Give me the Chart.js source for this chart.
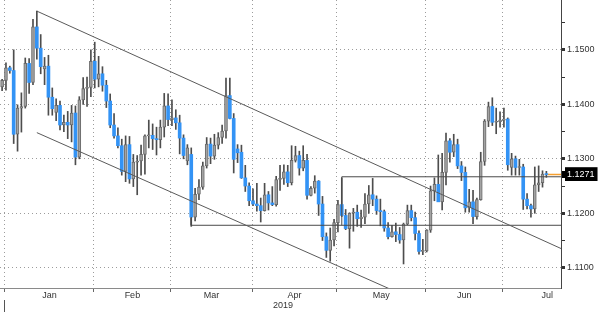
<!DOCTYPE html>
<html><head><meta charset="utf-8">
<script src="https://cdn.jsdelivr.net/npm/chart.js@4.4.1/dist/chart.umd.min.js"></script>
<style>html,body{margin:0;padding:0;background:#fff;}#wrap{width:600px;height:314px;}</style>
</head><body><div id="wrap"><canvas id="c" width="600" height="314"></canvas></div>
<script>
const dates = [
 '2018-12-28','2018-12-31','2019-01-01','2019-01-02','2019-01-03','2019-01-04',
 '2019-01-07','2019-01-08','2019-01-09','2019-01-10','2019-01-11',
 '2019-01-14','2019-01-15','2019-01-16','2019-01-17','2019-01-18',
 '2019-01-21','2019-01-22','2019-01-23','2019-01-24','2019-01-25',
 '2019-01-28','2019-01-29','2019-01-30','2019-01-31','2019-02-01',
 '2019-02-04','2019-02-05','2019-02-06','2019-02-07','2019-02-08',
 '2019-02-11','2019-02-12','2019-02-13','2019-02-14','2019-02-15',
 '2019-02-18','2019-02-19','2019-02-20','2019-02-21','2019-02-22',
 '2019-02-25','2019-02-26','2019-02-27','2019-02-28','2019-03-01',
 '2019-03-04','2019-03-05','2019-03-06','2019-03-07','2019-03-08',
 '2019-03-11','2019-03-12','2019-03-13','2019-03-14','2019-03-15',
 '2019-03-18','2019-03-19','2019-03-20','2019-03-21','2019-03-22',
 '2019-03-25','2019-03-26','2019-03-27','2019-03-28','2019-03-29',
 '2019-04-01','2019-04-02','2019-04-03','2019-04-04','2019-04-05',
 '2019-04-08','2019-04-09','2019-04-10','2019-04-11','2019-04-12',
 '2019-04-15','2019-04-16','2019-04-17','2019-04-18','2019-04-19',
 '2019-04-22','2019-04-23','2019-04-24','2019-04-25','2019-04-26',
 '2019-04-29','2019-04-30','2019-05-01','2019-05-02','2019-05-03',
 '2019-05-06','2019-05-07','2019-05-08','2019-05-09','2019-05-10',
 '2019-05-13','2019-05-14','2019-05-15','2019-05-16','2019-05-17',
 '2019-05-20','2019-05-21','2019-05-22','2019-05-23','2019-05-24',
 '2019-05-27','2019-05-28','2019-05-29','2019-05-30','2019-05-31',
 '2019-06-03','2019-06-04','2019-06-05','2019-06-06','2019-06-07',
 '2019-06-10','2019-06-11','2019-06-12','2019-06-13','2019-06-14',
 '2019-06-17','2019-06-18','2019-06-19','2019-06-20','2019-06-21',
 '2019-06-24','2019-06-25','2019-06-26','2019-06-27','2019-06-28',
 '2019-07-01','2019-07-02','2019-07-03','2019-07-04','2019-07-05',
 '2019-07-08','2019-07-09','2019-07-10','2019-07-11','2019-07-12',
 '2019-07-15'
];
const opens = [
 1.1432,1.1444,1.1467,1.1462,1.1345,1.1393,
 1.1396,1.1475,1.1440,1.1542,1.1503,
 1.1465,1.1470,1.1413,1.1385,1.1398,
 1.1362,1.1367,1.1362,1.1384,1.1303,
 1.1408,1.1429,1.1431,1.1479,1.1446,
 1.1456,1.1435,1.1406,1.1362,1.1342,
 1.1324,1.1277,1.1326,1.1263,1.1294,
 1.1296,1.1308,1.1342,1.1343,1.1337,
 1.1335,1.1358,1.1397,1.1372,1.1375,
 1.1366,1.1338,1.1296,1.1308,1.1193,
 1.1235,1.1248,1.1287,1.1327,1.1305,
 1.1325,1.1339,1.1351,1.1416,1.1374,
 1.1318,1.1312,1.1265,1.1250,1.1223,
 1.1217,1.1214,1.1205,1.1234,1.1219,
 1.1216,1.1262,1.1264,1.1276,1.1256,
 1.1297,1.1306,1.1283,1.1297,1.1233,
 1.1246,1.1259,1.1217,1.1157,1.1132,
 1.1151,1.1183,1.1216,1.1196,1.1172,
 1.1200,1.1202,1.1190,1.1193,1.1217,
 1.1234,1.1226,1.1205,1.1203,1.1173,
 1.1157,1.1166,1.1161,1.1151,1.1180,
 1.1205,1.1192,1.1163,1.1130,1.1131,
 1.1169,1.1241,1.1253,1.1221,1.1275,
 1.1333,1.1312,1.1326,1.1287,1.1275,
 1.1210,1.1221,1.1194,1.1225,1.1295,
 1.1369,1.1396,1.1367,1.1368,1.1371,
 1.1373,1.1284,1.1300,1.1284,1.1285,
 1.1226,1.1214,1.1208,1.1252,1.1256,
 1.1272
];
const highs = [
 1.1446,1.1476,1.1470,1.1500,1.1399,1.1421,
 1.1485,1.1484,1.1556,1.1571,1.1528,
 1.1486,1.1490,1.1430,1.1410,1.1406,
 1.1380,1.1387,1.1398,1.1397,1.1414,
 1.1449,1.1450,1.1500,1.1514,1.1488,
 1.1469,1.1444,1.1419,1.1383,1.1357,
 1.1336,1.1342,1.1341,1.1308,1.1306,
 1.1325,1.1344,1.1371,1.1364,1.1358,
 1.1371,1.1420,1.1419,1.1408,1.1390,
 1.1380,1.1344,1.1326,1.1320,1.1246,
 1.1262,1.1294,1.1339,1.1338,1.1345,
 1.1348,1.1362,1.1448,1.1448,1.1383,
 1.1326,1.1325,1.1288,1.1256,1.1245,
 1.1255,1.1228,1.1255,1.1240,1.1249,
 1.1268,1.1288,1.1289,1.1288,1.1324,
 1.1323,1.1314,1.1324,1.1308,1.1249,
 1.1269,1.1260,1.1231,1.1164,1.1173,
 1.1189,1.1224,1.1265,1.1207,1.1201,
 1.1209,1.1215,1.1206,1.1236,1.1251,
 1.1264,1.1232,1.1226,1.1206,1.1183,
 1.1178,1.1182,1.1174,1.1182,1.1215,
 1.1215,1.1202,1.1168,1.1152,1.1170,
 1.1250,1.1265,1.1307,1.1310,1.1347,
 1.1337,1.1345,1.1336,1.1295,1.1285,
 1.1244,1.1242,1.1228,1.1312,1.1372,
 1.1404,1.1412,1.1393,1.1386,1.1393,
 1.1375,1.1310,1.1305,1.1299,1.1290,
 1.1236,1.1217,1.1285,1.1287,1.1278,
 1.1277
];
const lows = [
 1.1425,1.1426,1.1457,1.1328,1.1314,1.1349,
 1.1393,1.1420,1.1436,1.1483,1.1456,
 1.1436,1.1380,1.1380,1.1370,1.1353,
 1.1350,1.1337,1.1331,1.1289,1.1300,
 1.1400,1.1396,1.1414,1.1430,1.1432,
 1.1424,1.1394,1.1357,1.1338,1.1320,
 1.1270,1.1258,1.1255,1.1249,1.1234,
 1.1270,1.1272,1.1320,1.1317,1.1307,
 1.1320,1.1340,1.1361,1.1361,1.1354,
 1.1309,1.1300,1.1289,1.1176,1.1186,
 1.1225,1.1244,1.1283,1.1291,1.1299,
 1.1318,1.1328,1.1338,1.1373,1.1274,
 1.1293,1.1264,1.1240,1.1214,1.1214,
 1.1204,1.1184,1.1204,1.1206,1.1214,
 1.1213,1.1242,1.1253,1.1249,1.1252,
 1.1294,1.1270,1.1278,1.1226,1.1232,
 1.1237,1.1196,1.1150,1.1119,1.1112,
 1.1140,1.1166,1.1194,1.1170,1.1136,
 1.1167,1.1176,1.1174,1.1181,1.1200,
 1.1214,1.1198,1.1177,1.1167,1.1153,
 1.1156,1.1148,1.1145,1.1107,1.1179,
 1.1186,1.1151,1.1125,1.1124,1.1129,
 1.1165,1.1223,1.1229,1.1206,1.1252,
 1.1294,1.1304,1.1282,1.1260,1.1202,
 1.1202,1.1181,1.1189,1.1224,1.1288,
 1.1359,1.1361,1.1346,1.1358,1.1358,
 1.1279,1.1270,1.1270,1.1270,1.1207,
 1.1208,1.1193,1.1200,1.1240,1.1248,
 1.1266
];
const closes = [
 1.1444,1.1467,1.1462,1.1345,1.1393,1.1396,
 1.1475,1.1440,1.1542,1.1503,1.1469,
 1.1470,1.1413,1.1392,1.1398,1.1362,
 1.1367,1.1362,1.1384,1.1303,1.1408,
 1.1429,1.1431,1.1479,1.1446,1.1456,
 1.1435,1.1406,1.1362,1.1342,1.1324,
 1.1277,1.1326,1.1263,1.1294,1.1296,
 1.1308,1.1342,1.1343,1.1337,1.1335,
 1.1358,1.1397,1.1372,1.1375,1.1366,
 1.1338,1.1306,1.1320,1.1193,1.1235,
 1.1248,1.1287,1.1327,1.1305,1.1325,
 1.1339,1.1351,1.1416,1.1374,1.1299,
 1.1311,1.1265,1.1250,1.1223,1.1217,
 1.1214,1.1205,1.1234,1.1219,1.1216,
 1.1262,1.1264,1.1276,1.1256,1.1297,
 1.1306,1.1283,1.1297,1.1233,1.1246,
 1.1259,1.1217,1.1157,1.1132,1.1151,
 1.1183,1.1216,1.1196,1.1172,1.1200,
 1.1202,1.1190,1.1193,1.1217,1.1234,
 1.1226,1.1205,1.1203,1.1173,1.1157,
 1.1166,1.1161,1.1151,1.1180,1.1205,
 1.1192,1.1163,1.1130,1.1131,1.1169,
 1.1241,1.1253,1.1221,1.1275,1.1333,
 1.1312,1.1326,1.1287,1.1275,1.1210,
 1.1221,1.1194,1.1225,1.1295,1.1369,
 1.1396,1.1367,1.1368,1.1371,1.1373,
 1.1289,1.1300,1.1284,1.1285,1.1226,
 1.1214,1.1208,1.1252,1.1256,1.1272,
 1.1271
];

// month boundaries (first weekday of each month) and month labels
const monthStarts = ['2019-01-01','2019-02-01','2019-03-01','2019-04-01','2019-05-01','2019-06-03','2019-07-01','2019-08-01'];
const monthNames = ['Jan','Feb','Mar','Apr','May','Jun','Jul'];
const yearLabel = '2019';
const yMajor = [1.11, 1.12, 1.13, 1.14, 1.15];
const yMinor = [1.115, 1.125, 1.135, 1.145, 1.155];

// drawn trend lines: [date, price]
const channelTop = [['2019-01-10', 1.1571], ['2019-07-31', 1.1109]];
const channelBottom = [['2019-01-10', 1.1348], ['2019-05-23', 1.1050]];
const supportLine = [['2019-03-07', 1.1192], ['2019-03-07', 1.1178], ['2019-07-31', 1.1178]];
const resistanceLine = [['2019-05-01', 1.1178], ['2019-05-01', 1.1267], ['2019-07-31', 1.1267]];

// ---- helpers ----
function wd(iso){
  const t = Date.parse(iso + 'T00:00:00Z'), base = Date.UTC(2019,0,1);
  let n = 0;
  if (t >= base) { for (let d = base; d < t; d += 864e5){ const w = new Date(d).getUTCDay(); if (w !== 0 && w !== 6) n++; } }
  else { for (let d = t; d < base; d += 864e5){ const w = new Date(d).getUTCDay(); if (w !== 0 && w !== 6) n--; } }
  return n;
}
const GRID_SHIFT = -1.25;
const xMin = -2.545, xMax = 142.79;
const yMin = 1.10629, yMax = 1.15914;
const lastPrice = closes[closes.length - 1];
const lastX = wd(dates[dates.length - 1]);

const xs = dates.map(wd);
const wicks = xs.map((x, i) => ({x, y: [lows[i], highs[i]]}));
const upBodies = [], downBodies = [];
xs.forEach((x, i) => {
  const o = opens[i], c = closes[i];
  (c >= o ? upBodies : downBodies).push({x, y: [Math.min(o, c), Math.max(o, c)]});
});
const toPts = arr => arr.map(([d, p]) => ({x: wd(d), y: p}));

const bounds = monthStarts.map(d => wd(d) + GRID_SHIFT);
const xTickDefs = [];
bounds.forEach((b, i) => {
  if (b <= xMax) xTickDefs.push({value: b, lbl: '', kind: 'b'});
  if (i < monthNames.length) xTickDefs.push({value: (b + bounds[i + 1]) / 2, lbl: monthNames[i], kind: 'l'});
});
xTickDefs.sort((a, b) => a.value - b.value);
const yTickDefs = [
  ...yMajor.map(v => ({value: v, lbl: v.toFixed(4), kind: 'M'})),
  ...yMinor.map(v => ({value: v, lbl: '', kind: 'm'})),
  {value: lastPrice, lbl: lastPrice.toFixed(4), kind: 'p'}
].sort((a, b) => a.value - b.value);

const FONT = {family: "'Liberation Sans', Arial, sans-serif", size: 9};
const TR = 'rgba(0,0,0,0)';
const kindOf = c => (c && c.tick && c.tick.kind) || '';
const noPad = s => { s.paddingLeft = 0; s.paddingRight = 0; s.paddingTop = 0; s.paddingBottom = 0; };
const lineDs = (pts, color, width, order) => ({
  type: 'line', data: pts, borderColor: color, borderWidth: width, pointRadius: 0,
  fill: false, tension: 0, order, xAxisID: 'x', yAxisID: 'y'
});

new Chart(document.getElementById('c'), {
  type: 'bar',
  data: {
    datasets: [
      lineDs(toPts(channelTop), '#5a5a5a', 1, 0),
      lineDs(toPts(channelBottom), '#5a5a5a', 1, 0),
      lineDs(toPts(supportLine), '#4a4a4a', 1, 0),
      lineDs(toPts(resistanceLine), '#4a4a4a', 1, 0),
      lineDs([{x: lastX + 0.4, y: lastPrice}, {x: xMax + 5, y: lastPrice}], '#f5a030', 1.5, 0),
      {type: 'bar', data: upBodies, backgroundColor: '#a3a3a3', borderColor: '#6a6a6a', borderWidth: 1,
       borderSkipped: false, barThickness: 3, grouped: false, minBarLength: 1, order: 2},
      {type: 'bar', data: downBodies, backgroundColor: '#3393f5', borderWidth: 0,
       barThickness: 3, grouped: false, minBarLength: 1, order: 2},
      {type: 'bar', data: wicks, backgroundColor: '#4d4d4d', borderWidth: 0,
       barThickness: 1, grouped: false, order: 3}
    ]
  },
  options: {
    responsive: false, animation: false, devicePixelRatio: 1,
    layout: {padding: 0},
    plugins: {legend: {display: false}, tooltip: {enabled: false}, title: {display: false}},
    scales: {
      x: {
        type: 'linear', position: 'bottom', weight: 0, min: xMin, max: xMax, bounds: 'data', offset: false,
        afterBuildTicks: s => { s.ticks = xTickDefs.map(t => ({...t})); },
        afterFit: s => { s.height = 12; noPad(s); },
        ticks: {autoSkip: false, maxRotation: 0, minRotation: 0, padding: -2, color: '#333', font: FONT,
                callback: (v, i, ts) => ts[i].lbl},
        grid: {display: true, offset: false, drawOnChartArea: true, drawTicks: true, tickLength: 4, lineWidth: 1,
               color: c => kindOf(c) === 'b' ? '#9c9c9c' : TR,
               tickColor: c => kindOf(c) === 'b' ? '#666' : TR},
        border: {display: true, color: '#8a8a8a', width: 1, dash: [1, 3]}
      },
      xy: {
        type: 'linear', position: 'bottom', weight: 1, min: xMin, max: xMax, bounds: 'data', offset: false,
        afterBuildTicks: s => { s.ticks = [{value: bounds[0], lbl: '', kind: 'b'}, {value: (bounds[0] + xMax) / 2, lbl: yearLabel, kind: 'l'}]; },
        afterFit: s => { s.height = 14; noPad(s); },
        ticks: {autoSkip: false, maxRotation: 0, minRotation: 0, padding: -11.4, color: '#333', font: FONT,
                callback: (v, i, ts) => ts[i].lbl},
        grid: {display: true, offset: false, drawOnChartArea: false, drawTicks: true, tickLength: 12,
               tickColor: c => kindOf(c) === 'b' ? '#555' : TR},
        border: {display: false}
      },
      y: {
        type: 'linear', position: 'right', min: yMin, max: yMax, bounds: 'data', offset: false,
        afterBuildTicks: s => { s.ticks = yTickDefs.map(t => ({...t})); },
        afterFit: s => { s.width = 39; noPad(s); },
        ticks: {autoSkip: false, padding: 2, font: FONT,
                color: c => kindOf(c) === 'p' ? '#ffffff' : '#333',
                callback: (v, i, ts) => ts[i].lbl,
                showLabelBackdrop: c => kindOf(c) === 'p',
                backdropColor: '#000000',
                backdropPadding: {top: 2, bottom: 1, left: 2, right: 3}},
        grid: {display: true, offset: false, drawOnChartArea: true, drawTicks: true, tickLength: 4, lineWidth: 1,
               color: c => kindOf(c) === 'M' ? '#9c9c9c' : TR,
               tickColor: c => kindOf(c) === 'p' ? '#000' : '#333',
               tickWidth: c => kindOf(c) === 'M' ? 3 : (kindOf(c) === 'p' ? 7 : 1)},
        border: {display: true, color: '#444', width: 1, dash: [1, 3]}
      }
    }
  }
});
</script>
</body></html>
